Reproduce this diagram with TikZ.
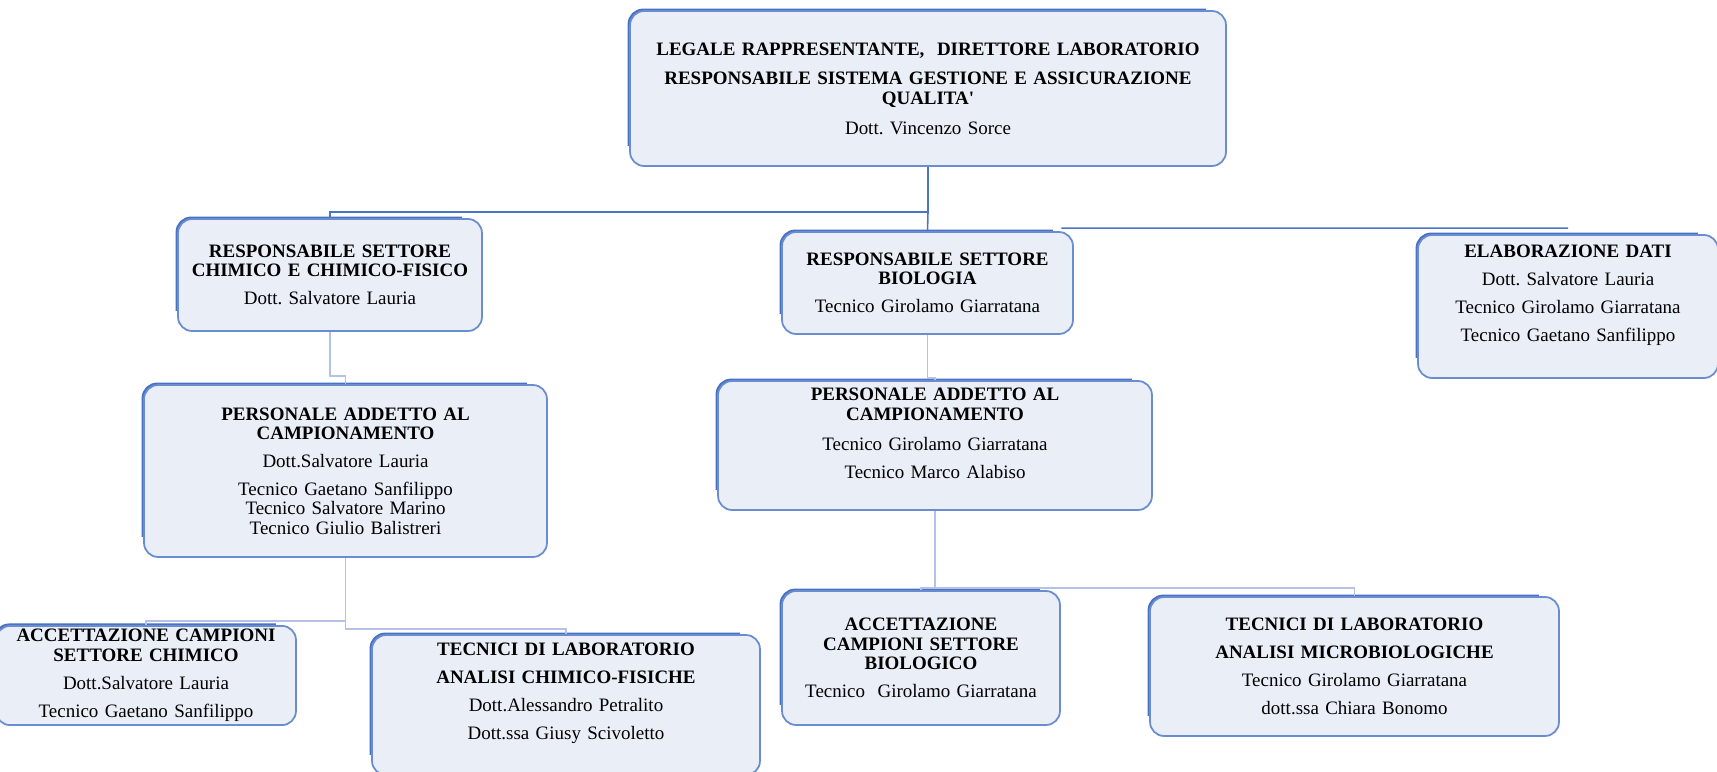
\documentclass[tikz,border=0pt]{standalone}
\usepackage{fontspec}
\setmainfont{Liberation Serif}
\frenchspacing
\definecolor{boxfill}{HTML}{E9EEF7}
\definecolor{boxedge}{HTML}{6A8CD0}
\definecolor{boxdark}{HTML}{4A72C4}
\definecolor{linkdark}{HTML}{4A74C4}
\definecolor{linkpale}{HTML}{B3C2E6}

\begin{document}
\begin{tikzpicture}[x=0.02cm, y=-0.02cm,
  box/.style={draw=boxedge, line width=1pt, fill=boxfill, rounded corners=8pt,
    align=center, inner xsep=0pt, inner ysep=2pt,
    font=\fontsize{10.8}{11}\selectfont,
    append after command={\pgfextra{\draw[boxdark, line width=1.8pt, rounded corners=8pt]
      ([yshift=12pt]\tikzlastnode.south west) -- (\tikzlastnode.north west)
      -- ([xshift=-12pt]\tikzlastnode.north east);}}},
  link/.style={draw=linkdark, line width=0.9pt},
  sublink/.style={draw=linkpale, line width=1pt}]
  \useasboundingbox (0,0) rectangle (1717,771);
  \clip (0,0) rectangle (1717,771);

  \node[box, text width=11.92cm, minimum height=3.10cm] (legale) at (928,88.5)
  {{\bfseries LEGALE RAPPRESENTANTE,\ \ DIRETTORE LABORATORIO}\\[6pt]
    {\bfseries RESPONSABILE SISTEMA GESTIONE E ASSICURAZIONE\\QUALITA\textquotesingle}\\[6pt]
    Dott. Vincenzo Sorce};
  \node[box, text width=6.08cm, minimum height=2.24cm] (chimico) at (330,275)
  {{\bfseries RESPONSABILE SETTORE\\CHIMICO E CHIMICO-FISICO}\\[5pt]
    Dott. Salvatore Lauria};
  \node[box, text width=5.82cm, minimum height=2.04cm] (biologia) at (927.5,283)
  {{\bfseries RESPONSABILE SETTORE\\BIOLOGIA}\\[5pt]
    Tecnico Girolamo Giarratana};
  \node[box, text width=6.00cm, minimum height=2.86cm] (elabora) at (1568,306.5)
  {{\bfseries ELABORAZIONE DATI}\\[5pt]
    Dott. Salvatore Lauria\\[5pt]
    Tecnico Girolamo Giarratana\\[5pt]
    Tecnico Gaetano Sanfilippo\\[4pt]\mbox{}};

  \node[box, text width=8.06cm, minimum height=3.44cm] (campchim) at (345.5,471)
  {{\bfseries PERSONALE ADDETTO AL\\CAMPIONAMENTO}\\[5pt]
    Dott.Salvatore Lauria\\[5pt]
    Tecnico Gaetano Sanfilippo\\
    Tecnico Salvatore Marino\\
    Tecnico Giulio Balistreri};
  \node[box, text width=8.68cm, minimum height=2.58cm] (campbio) at (935,445.5)
  {{\bfseries PERSONALE ADDETTO AL\\CAMPIONAMENTO}\\[6pt]
    Tecnico Girolamo Giarratana\\[5pt]
    Tecnico Marco Alabiso\\[3pt]\mbox{}};

  \node[box, text width=6.00cm, minimum height=1.98cm] (accchim) at (146,675.5)
  {{\bfseries ACCETTAZIONE CAMPIONI\\SETTORE CHIMICO}\\[5pt]
    Dott.Salvatore Lauria\\[5pt]
    Tecnico Gaetano Sanfilippo};
  \node[box, text width=7.76cm, minimum height=2.80cm] (tecchim) at (566,705)
  {{\bfseries TECNICI DI LABORATORIO\\[5pt]ANALISI CHIMICO-FISICHE}\\[5pt]
    Dott.Alessandro Petralito\\[5pt]
    Dott.ssa Giusy Scivoletto\\[5pt]\mbox{}};
  \node[box, text width=5.56cm, minimum height=2.68cm] (accbio) at (921,658)
  {{\bfseries ACCETTAZIONE\\CAMPIONI SETTORE\\BIOLOGICO}\\[5pt]
    Tecnico\ \ Girolamo Giarratana};
  \node[box, text width=8.18cm, minimum height=2.78cm] (tecbio) at (1354.5,666.5)
  {{\bfseries TECNICI DI LABORATORIO\\[5pt]ANALISI MICROBIOLOGICHE}\\[5pt]
    Tecnico Girolamo Giarratana\\[5pt]
    dott.ssa Chiara Bonomo};

  \coordinate (elabin) at ([yshift=0.12cm]elabora.north);
  \draw[link] (legale.south) -- ++(0,45) coordinate (hub) -| (chimico.north);
  \path[link] (hub) edge (biologia.north);
  \path[link] ([xshift=-0.25cm,yshift=0.06cm]biologia.north east) edge (elabin);
  \draw[sublink] (chimico.south) -- ++(0,44) -| (campchim.north);
  \draw[sublink] (biologia.south) -- ++(0,43) -| (campbio.north);
  \draw[sublink] (campchim.south) -- ++(0,63) -| (accchim.north);
  \draw[sublink] (campchim.south) -- ++(0,71) -| (tecchim.north);
  \draw[sublink] (campbio.south) -- ++(0,77) -| (accbio.north);
  \draw[sublink] (campbio.south) -- ++(0,77) -| (tecbio.north);
\end{tikzpicture}
\end{document}
